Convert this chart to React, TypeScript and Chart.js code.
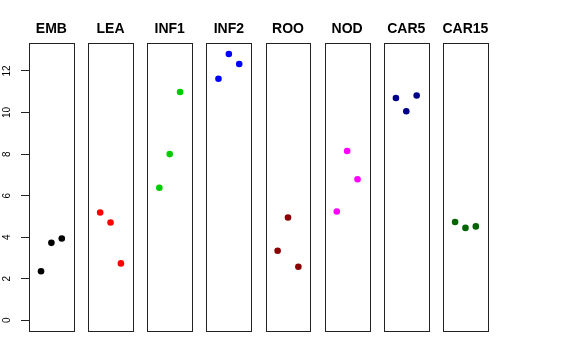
import React, { useEffect, useRef } from "react";
import { Chart, registerables } from "chart.js";

Chart.register(...registerables);

const panels = ["EMB", "LEA", "INF1", "INF2", "ROO", "NOD", "CAR5", "CAR15"];
const colors = ["#000000", "#FF0000", "#00CD00", "#0000FF", "#8B0000", "#FF00FF", "#00008B", "#006400"];
const positions = [1, 2, 3];
const EMB = [2.36, 3.73, 3.94];
const LEA = [5.19, 4.71, 2.74];
const INF1 = [6.38, 8.0, 10.99];
const INF2 = [11.63, 12.82, 12.34];
const ROO = [3.35, 4.95, 2.58];
const NOD = [5.24, 8.15, 6.79];
const CAR5 = [10.7, 10.06, 10.82];
const CAR15 = [4.73, 4.45, 4.52];
const seriesValues = [EMB, LEA, INF1, INF2, ROO, NOD, CAR5, CAR15];
const yTicks = [0, 2, 4, 6, 8, 10, 12];

const W = 576;
const H = 360;
const PANEL_LEFT0 = 29.0;
const PITCH = 59.15;
const PANEL_W = 44.8;
const TOP = 43.3;
const BOTTOM = 331;
const Y_MIN = -0.513;
const Y_MAX = 13.333;
const X_MIN = -0.16;
const X_MAX = 4.16;

const boxPlugin = {
  id: "panelBox",
  afterDatasetsDraw(chart: any) {
    const { ctx, chartArea } = chart;
    ctx.save();
    ctx.strokeStyle = "#222";
    ctx.lineWidth = 1;
    ctx.strokeRect(
      Math.round(chartArea.left) + 0.5,
      Math.round(chartArea.top) + 0.5,
      Math.round(chartArea.right) - Math.round(chartArea.left),
      Math.round(chartArea.bottom) - Math.round(chartArea.top)
    );
    const title = chart.options.plugins.panelBox?.title;
    if (title) {
      ctx.fillStyle = "#000";
      ctx.font = "bold 14px 'Liberation Sans', Arial, sans-serif";
      ctx.textAlign = "center";
      ctx.textBaseline = "middle";
      ctx.fillText(title, (chartArea.left + chartArea.right) / 2, 29.5);
    }
    if (chart.options.plugins.panelBox?.yLabels) {
      const ys = chart.scales.y;
      ctx.font = "10px 'Liberation Sans', Arial, sans-serif";
      ctx.textAlign = "center";
      ctx.textBaseline = "middle";
      for (const t of ys.ticks) {
        const py = ys.getPixelForValue(t.value);
        ctx.save();
        ctx.translate(7.5, py);
        ctx.rotate(-Math.PI / 2);
        ctx.fillText(String(t.value), 0, 0);
        ctx.restore();
      }
    }
    ctx.restore();
  },
};

function Panel({ index }: { index: number }) {
  const ref = useRef<HTMLCanvasElement | null>(null);
  useEffect(() => {
    if (!ref.current) return;
    const left = PANEL_LEFT0 + PITCH * index;
    const right = left + PANEL_W;
    const first = index === 0;
    const chart = new Chart(ref.current, {
      type: "scatter",
      data: {
        datasets: [
          {
            data: positions.map((p, i) => ({ x: p, y: seriesValues[index][i] })),
            backgroundColor: colors[index],
            borderColor: colors[index],
            pointRadius: 3.3,
            pointBorderWidth: 0,
          },
        ],
      },
      options: {
        animation: false,
        responsive: false,
        events: [],
        layout: {
          padding: {
            left: first ? 0 : left,
            right: W - right,
            top: TOP,
            bottom: H - BOTTOM,
          },
        },
        plugins: {
          legend: { display: false },
          tooltip: { enabled: false },
          title: { display: false },
          panelBox: { title: panels[index], yLabels: first },
        } as any,
        scales: {
          x: { type: "linear", display: false, min: X_MIN, max: X_MAX },
          y: {
            type: "linear",
            display: first,
            min: Y_MIN,
            max: Y_MAX,
            afterBuildTicks: (s: any) => {
              s.ticks = yTicks.map((v) => ({ value: v }));
            },
            afterFit: (s: any) => {
              s.width = first ? PANEL_LEFT0 : 0;
            },
            border: { display: false },
            grid: {
              display: true,
              drawOnChartArea: false,
              drawTicks: true,
              tickLength: 8,
              color: "#222",
              lineWidth: 1,
            },
            ticks: { display: false },
          },
        },
      },
      plugins: [boxPlugin],
    });
    return () => chart.destroy();
  }, [index]);
  return (
    <canvas
      ref={ref}
      width={W}
      height={H}
      style={{ position: "absolute", left: 0, top: 0, width: W, height: H }}
    />
  );
}

export default function App() {
  return (
    <div style={{ position: "fixed", left: 0, top: 0, width: W, height: H, background: "#fff" }}>
      {panels.map((_, i) => (
        <Panel key={i} index={i} />
      ))}
    </div>
  );
}
